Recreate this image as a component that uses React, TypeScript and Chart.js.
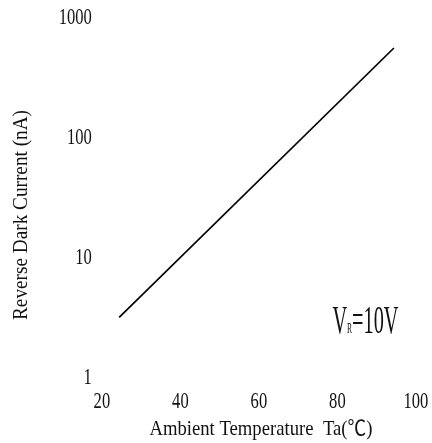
import React, { useEffect, useRef } from "react";
import { Chart, registerables } from "chart.js";

Chart.register(...registerables);

const xTickValues = [20, 40, 60, 80, 100];
const yTickValues = [1, 10, 100, 1000];
const temperature = [24.4, 94.4];
const darkCurrent = [3.1, 550];
const xTitle = "Ambient Temperature  Ta(℃)";
const yTitle = "Reverse Dark Current (nA)";
const noteMain = "V";
const noteSub = "R";
const noteRest = "=10V";

const FONT = '"Liberation Serif", "Noto Sans CJK SC", "DejaVu Serif", serif';

function drawScaled(
  ctx: CanvasRenderingContext2D,
  text: string,
  px: number,
  py: number,
  size: number,
  sx: number,
  align: "left" | "center" | "right"
) {
  ctx.save();
  ctx.font = `${size}px ${FONT}`;
  ctx.textBaseline = "alphabetic";
  ctx.textAlign = "left";
  const w = ctx.measureText(text).width * sx;
  const left = align === "center" ? px - w / 2 : align === "right" ? px - w : px;
  ctx.translate(left, py + size * 0.33);
  ctx.scale(sx, 1);
  ctx.fillStyle = "#111";
  ctx.fillText(text, 0, 0);
  ctx.restore();
}

function fitScale(ctx: CanvasRenderingContext2D, text: string, size: number, width: number) {
  ctx.save();
  ctx.font = `${size}px ${FONT}`;
  const w = ctx.measureText(text).width;
  ctx.restore();
  return width / w;
}

const textPlugin = {
  id: "textPlugin",
  afterDraw(chart: any) {
    const ctx: CanvasRenderingContext2D = chart.ctx;
    const xs = chart.scales.x;
    const ys = chart.scales.y;
    const area = chart.chartArea;
    xTickValues.forEach((v) => {
      drawScaled(ctx, String(v), xs.getPixelForValue(v), area.bottom + 24, 23, 0.72, "center");
    });
    yTickValues.forEach((v) => {
      drawScaled(ctx, String(v), area.left - 10, ys.getPixelForValue(v), 23, 0.72, "right");
    });
    const sxT = fitScale(ctx, xTitle, 21, 223);
    drawScaled(ctx, xTitle, xs.getPixelForValue(60) + 2, area.bottom + 52, 21, sxT, "center");
    const syT = fitScale(ctx, yTitle, 21, 210);
    ctx.save();
    ctx.translate(20, 215);
    ctx.rotate(-Math.PI / 2);
    drawScaled(ctx, yTitle, 0, 0, 21, syT, "center");
    ctx.restore();
    ctx.save();
    ctx.font = `40px ${FONT}`;
    const w1 = ctx.measureText(noteMain).width;
    const w3 = ctx.measureText(noteRest).width;
    ctx.font = `15px ${FONT}`;
    const w2 = ctx.measureText(noteSub).width;
    const s = 66 / (w1 + w2 + w3);
    const left = xs.getPixelForValue(80) - 5;
    const base = ys.getPixelForValue(1) - 43;
    ctx.translate(left, base);
    ctx.scale(s, 1);
    ctx.fillStyle = "#111";
    ctx.textBaseline = "alphabetic";
    ctx.textAlign = "left";
    ctx.font = `40px ${FONT}`;
    ctx.fillText(noteMain, 0, 0);
    ctx.font = `15px ${FONT}`;
    ctx.fillText(noteSub, w1, 0);
    ctx.font = `40px ${FONT}`;
    ctx.fillText(noteRest, w1 + w2, 0);
    ctx.restore();
  },
};

export default function App() {
  const ref = useRef<HTMLCanvasElement | null>(null);
  useEffect(() => {
    if (!ref.current) return;
    const chart = new Chart(ref.current, {
      type: "line",
      data: {
        datasets: [
          {
            data: temperature.map((t, i) => ({ x: t, y: darkCurrent[i] })),
            borderColor: "#000",
            borderWidth: 1.7,
            pointRadius: 0,
            fill: false,
            tension: 0,
          },
        ],
      },
      options: {
        responsive: false,
        animation: false,
        layout: { padding: { left: 101.9, right: 16.1, top: 16.9, bottom: 66.7 } },
        plugins: { legend: { display: false }, tooltip: { enabled: false } },
        scales: {
          x: { type: "linear", min: 20, max: 100, display: false },
          y: { type: "logarithmic", min: 1, max: 1000, display: false },
        },
      },
      plugins: [textPlugin],
    });
    return () => chart.destroy();
  }, []);
  return (
    <div style={{ position: "fixed", left: 0, top: 0, width: 432, height: 443, background: "#fff" }}>
      <canvas ref={ref} width={432} height={443} style={{ display: "block" }} />
    </div>
  );
}
